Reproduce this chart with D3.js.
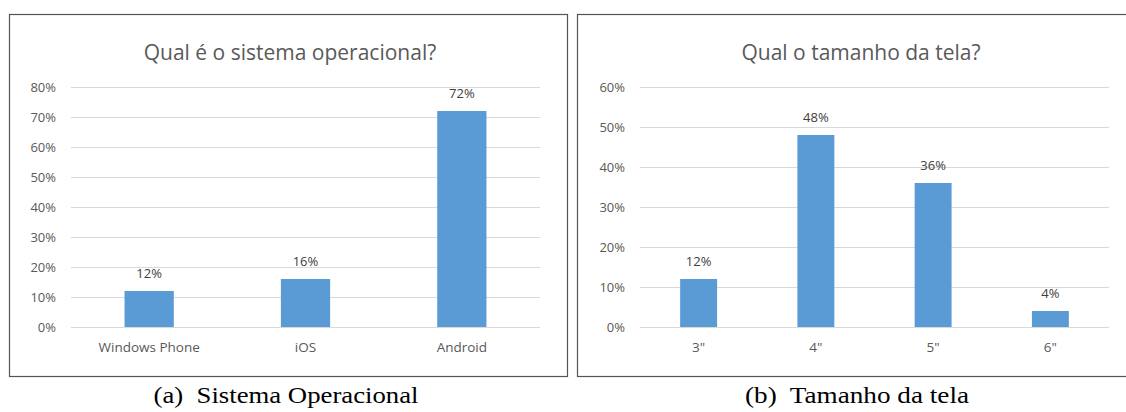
<!DOCTYPE html>
<html><head><meta charset="utf-8">
<script src="https://cdn.jsdelivr.net/npm/d3@7"></script>
<style>body{margin:0;background:#fff}svg{display:block}</style>
</head><body>
<svg id="c" width="1126" height="412"></svg>
<script>
// Data
const osCategories = ["Windows Phone", "iOS", "Android"];
const osValues = [0.12, 0.16, 0.72];
const osTicks = [0, 0.1, 0.2, 0.3, 0.4, 0.5, 0.6, 0.7, 0.8];
const osTitle = "Qual é o sistema operacional?";
const osCaption = "(a)  Sistema Operacional";

const sizeCategories = ['3"', '4"', '5"', '6"'];
const sizeValues = [0.12, 0.48, 0.36, 0.04];
const sizeTicks = [0, 0.1, 0.2, 0.3, 0.4, 0.5, 0.6];
const sizeTitle = "Qual o tamanho da tela?";
const sizeCaption = "(b)  Tamanho da tela";

const svg = d3.select("#c");
const fmt = d3.format(".0%");
const sans = "'Open Sans', sans-serif";

function panel(box, plot, cats, vals, ticks, title, caption) {
  const g = svg.append("g");
  g.append("rect").attr("x", box.x + 0.5).attr("y", box.y + 0.5)
    .attr("width", box.w).attr("height", box.h)
    .attr("fill", "#fff").attr("stroke", "#555").attr("stroke-width", 1.2);

  const x = d3.scaleBand().domain(cats).range([plot.x0, plot.x1])
    .paddingInner(0.685).paddingOuter(0.3425);
  const y = d3.scaleLinear().domain([0, d3.max(ticks)]).range([plot.y0, plot.y1]);

  // gridlines
  g.append("g").selectAll("line").data(ticks).join("line")
    .attr("x1", plot.x0).attr("x2", plot.x1)
    .attr("y1", d => Math.round(y(d)) + 0.5).attr("y2", d => Math.round(y(d)) + 0.5)
    .attr("stroke", "#d9d9d9").attr("stroke-width", 1);

  // y axis labels
  const ya = d3.axisLeft(y).tickValues(ticks).tickFormat(fmt).tickSize(0).tickPadding(0);
  const yg = g.append("g").attr("transform", `translate(${plot.x0 - 15},0)`).call(ya);
  yg.select(".domain").remove();
  yg.selectAll("text").attr("fill", "#595959").style("font-family", sans)
    .style("font-size", "13px");

  // x axis labels
  const xa = d3.axisBottom(x).tickSize(0).tickPadding(0);
  const xg = g.append("g").attr("transform", `translate(0,${plot.y0 + 15})`).call(xa);
  xg.select(".domain").remove();
  xg.selectAll("text").attr("fill", "#595959").style("font-family", sans)
    .style("font-size", "13.5px");

  // bars
  g.append("g").selectAll("rect").data(vals).join("rect")
    .attr("x", (d, i) => x(cats[i])).attr("width", x.bandwidth())
    .attr("y", d => y(d)).attr("height", d => y(0) - y(d))
    .attr("fill", "#5b9bd5");

  // value labels
  g.append("g").selectAll("text").data(vals).join("text")
    .attr("x", (d, i) => x(cats[i]) + x.bandwidth() / 2)
    .attr("y", d => y(d) - 13)
    .attr("text-anchor", "middle").attr("fill", "#404040")
    .style("font-family", sans).style("font-size", "13px")
    .text(d => fmt(d));

  // title
  g.append("text").attr("x", box.x + box.w / 2 + 2).attr("y", 60)
    .attr("text-anchor", "middle").attr("fill", "#595959")
    .style("font-family", sans).style("font-size", "21px")
    .text(title);

  // caption
  svg.append("text").attr("x", box.x + box.w / 2 - 2).attr("y", 403)
    .attr("text-anchor", "middle").attr("fill", "#000")
    .style("font-family", "'Liberation Serif', serif").style("font-size", "23px")
    .attr("textLength", box.capLen).attr("lengthAdjust", "spacingAndGlyphs")
    .style("white-space", "pre")
    .text(caption);
}

panel({x: 9, y: 14, w: 558, h: 362, capLen: 265}, {x0: 71, x1: 540, y0: 327, y1: 87},
  osCategories, osValues, osTicks, osTitle, osCaption);
panel({x: 577, y: 14, w: 564, h: 362, capLen: 224}, {x0: 640, x1: 1109, y0: 327, y1: 87},
  sizeCategories, sizeValues, sizeTicks, sizeTitle, sizeCaption);
</script>
</body></html>
